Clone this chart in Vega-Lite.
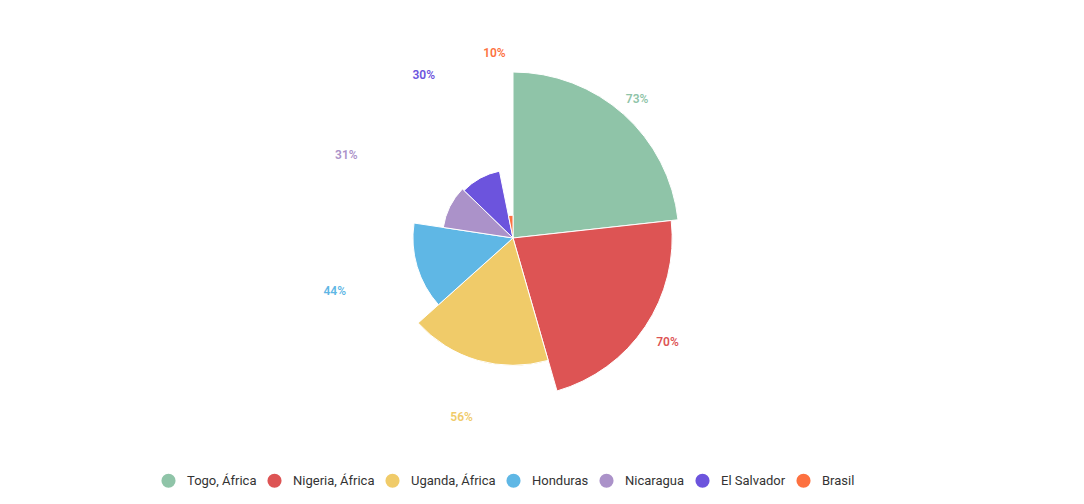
{
  "$schema": "https://vega.github.io/schema/vega-lite/v6.json",
  "width": 1026,
  "height": 440,
  "padding": {"left": 0, "top": 18, "right": 0, "bottom": 0},
  "background": "white",
  "config": {
    "view": {"stroke": null},
    "font": "Roboto"
  },
  "data": {
    "values": [
      {"pais": "Togo, África", "valor": 73, "rotulo": "73%", "ordem": 1},
      {"pais": "Nigeria, África", "valor": 70, "rotulo": "70%", "ordem": 2},
      {"pais": "Uganda, África", "valor": 56, "rotulo": "56%", "ordem": 3},
      {"pais": "Honduras", "valor": 44, "rotulo": "44%", "ordem": 4},
      {"pais": "Nicaragua", "valor": 31, "rotulo": "31%", "ordem": 5},
      {"pais": "El Salvador", "valor": 30, "rotulo": "30%", "ordem": 6},
      {"pais": "Brasil", "valor": 10, "rotulo": "10%", "ordem": 7}
    ]
  },
  "encoding": {
    "theta": {"field": "valor", "type": "quantitative", "stack": true},
    "order": {"field": "ordem", "type": "quantitative"},
    "color": {
      "field": "pais",
      "type": "nominal",
      "sort": null,
      "scale": {
        "domain": ["Togo, África", "Nigeria, África", "Uganda, África", "Honduras", "Nicaragua", "El Salvador", "Brasil"],
        "range": ["#8fc4a8", "#dd5454", "#f0cb69", "#5fb7e5", "#ab92c9", "#6c54dd", "#fd7140"]
      },
      "legend": {
        "title": null,
        "orient": "none",
        "legendX": 161,
        "legendY": 455,
        "direction": "horizontal",
        "columns": 7,
        "symbolType": "circle",
        "symbolSize": 200,
        "symbolStrokeWidth": 0,
        "symbolOpacity": 1,
        "labelFont": "Roboto",
        "labelFontSize": 13,
        "labelColor": "#333333",
        "labelOffset": 11,
        "columnPadding": 10
      }
    }
  },
  "layer": [
    {
      "mark": {"type": "arc", "stroke": "white", "strokeWidth": 1},
      "encoding": {
        "radius": {
          "field": "valor",
          "type": "quantitative",
          "scale": {"type": "linear", "zero": true, "domain": [0, 73], "range": [0, 166]}
        }
      }
    },
    {
      "mark": {"type": "text", "fontSize": 12, "fontWeight": 600, "font": "Roboto"},
      "encoding": {
        "radius": {"value": 186},
        "text": {"field": "rotulo", "type": "nominal"}
      }
    }
  ]
}
